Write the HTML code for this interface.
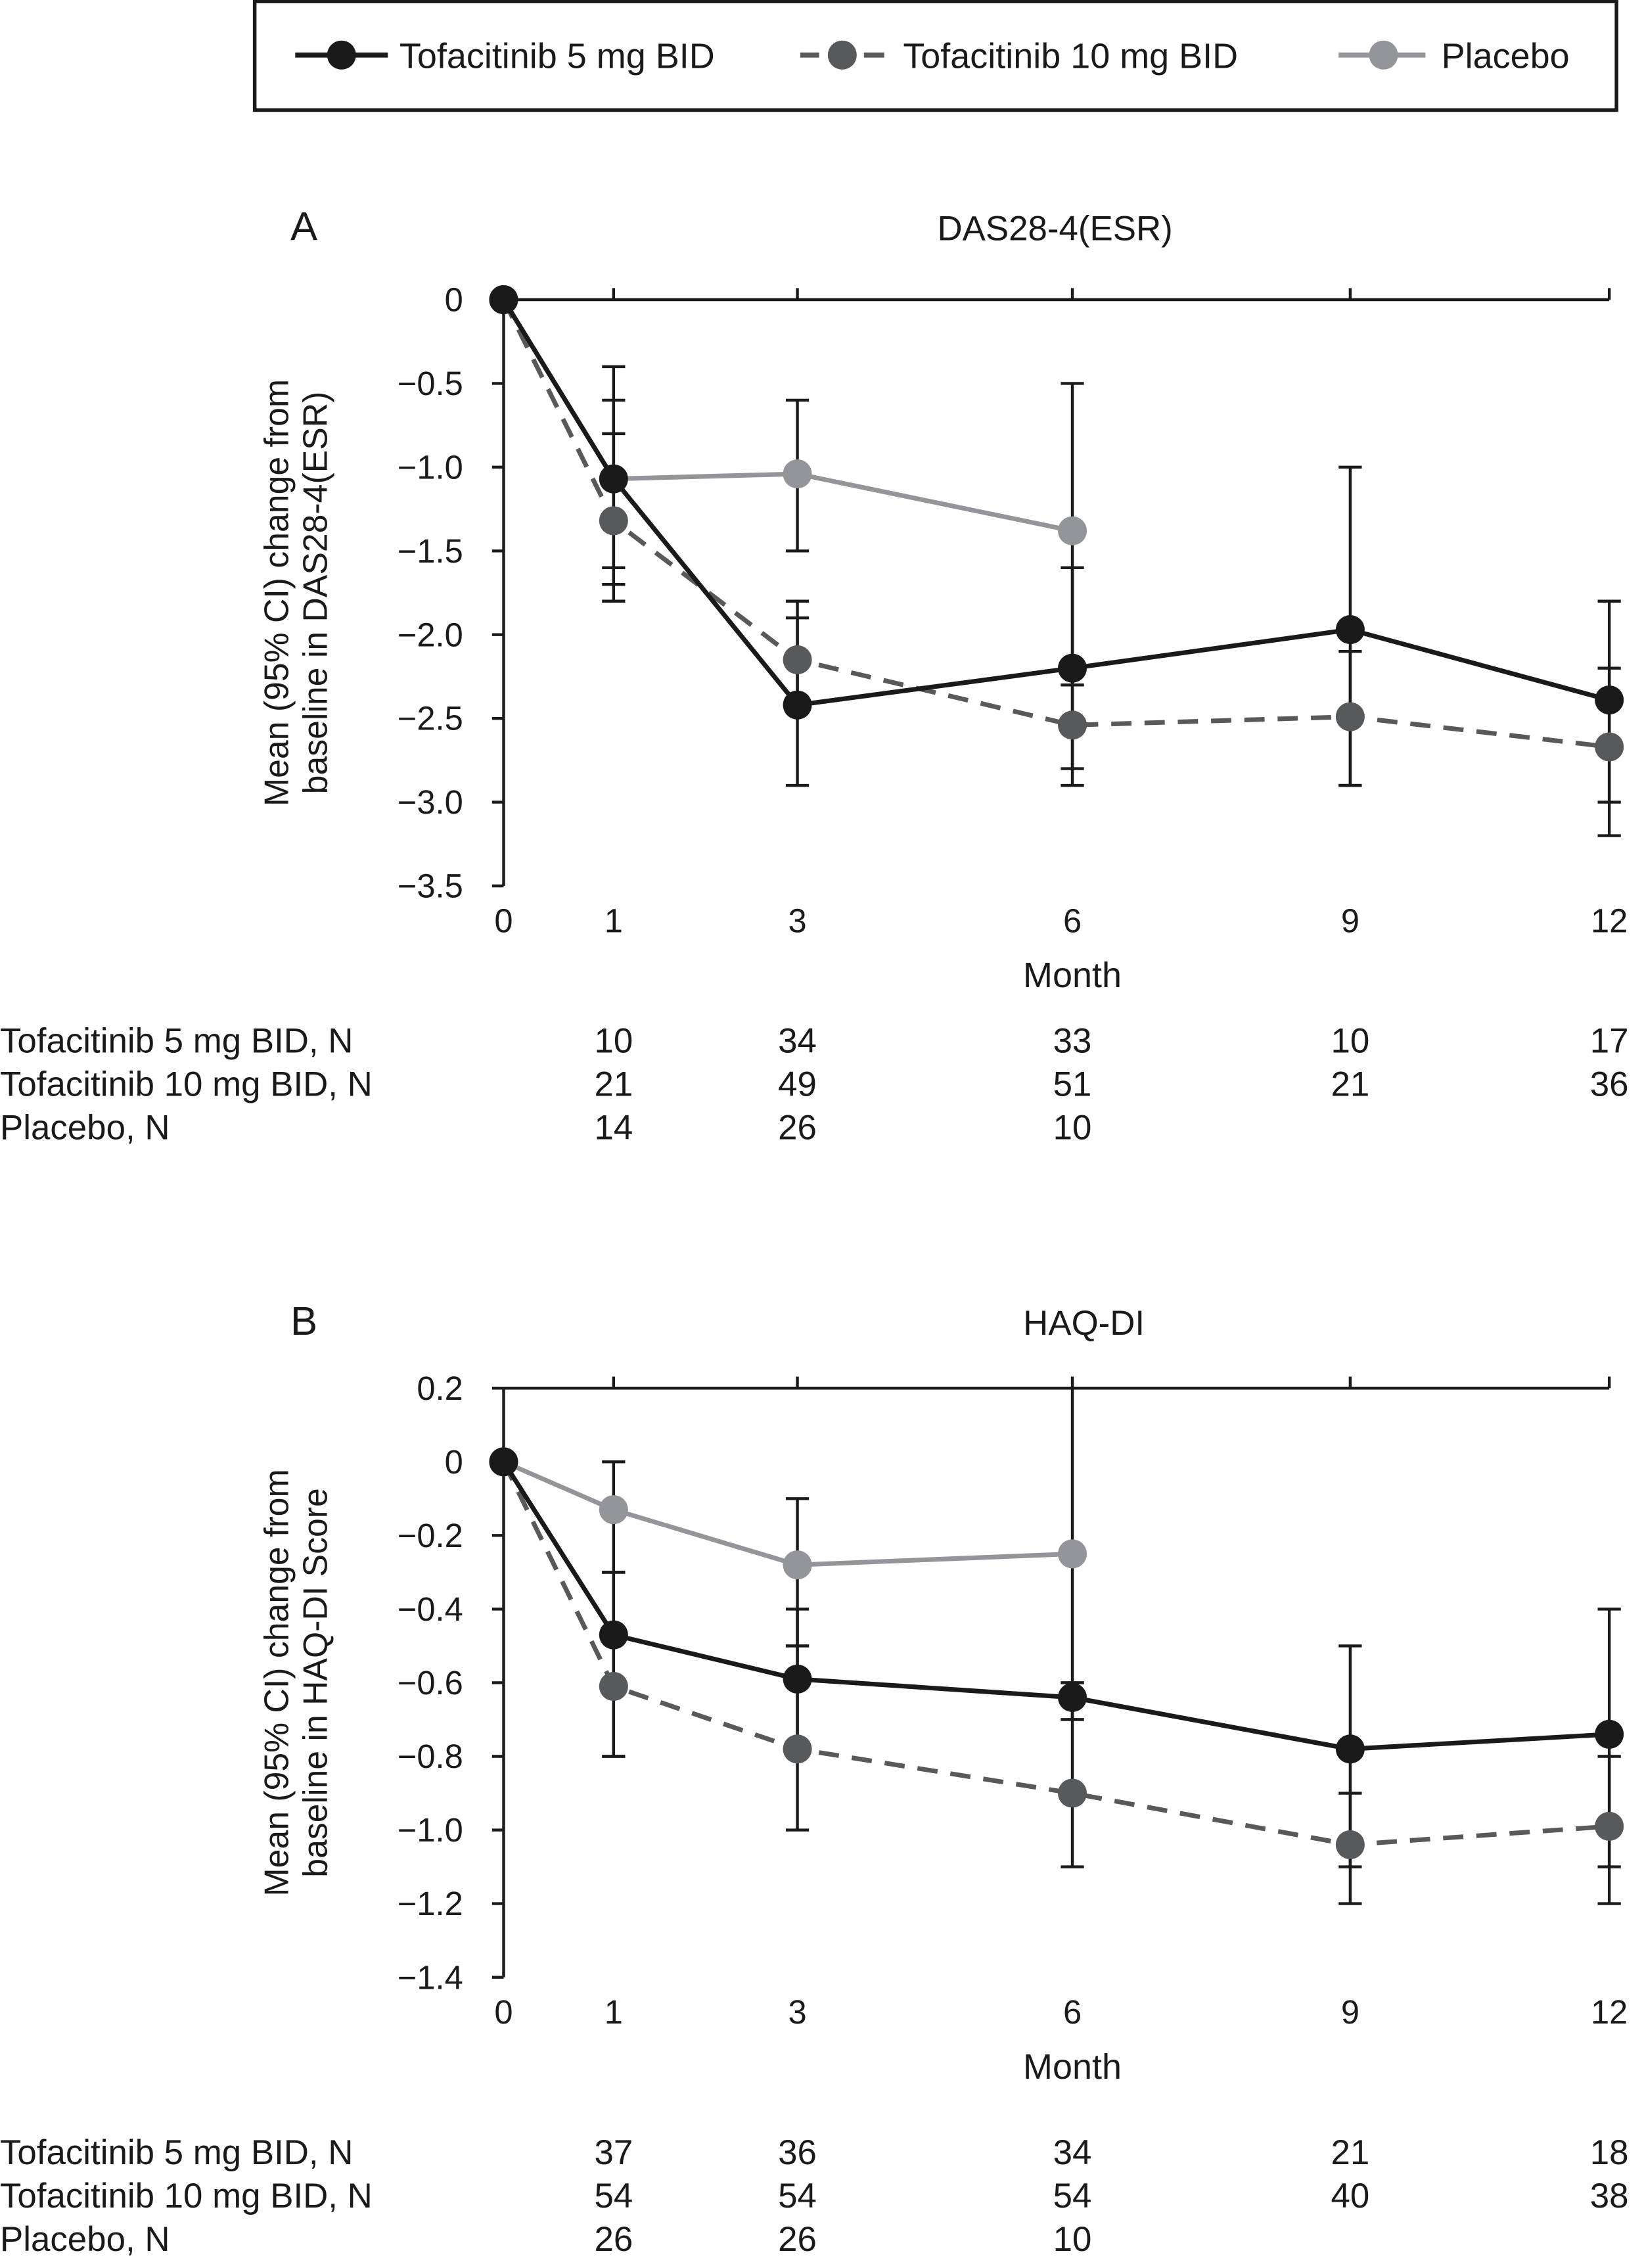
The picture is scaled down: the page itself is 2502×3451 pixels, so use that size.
<!DOCTYPE html>
<html><head><meta charset="utf-8"><style>
html,body{margin:0;padding:0;background:#fff}
svg{display:block}
text{font-family:"Liberation Sans",Arial,sans-serif;fill:#1a1a1a}
</style></head><body>
<svg id="fig" xmlns="http://www.w3.org/2000/svg" width="2502" height="3451" viewBox="0 0 1136 1566.8">
<g>
<rect x="176" y="1" width="941" height="75" fill="#fff" stroke="#1a1a1a" stroke-width="2.5"/>
<g>
<line x1="204" y1="38" x2="268" y2="38" stroke="#1a1a1a" stroke-width="3.5"/><circle cx="236" cy="38" r="10" fill="#1a1a1a"/>
<text x="276" y="47" font-size="24.5">Tofacitinib 5 mg BID</text></g>
<g>
<line x1="553" y1="38" x2="566" y2="38" stroke="#58595b" stroke-width="3.5"/><line x1="597" y1="38" x2="611" y2="38" stroke="#58595b" stroke-width="3.5"/><circle cx="582" cy="38" r="10" fill="#58595b"/>
<text x="624" y="47" font-size="24.5">Tofacitinib 10 mg BID</text></g>
<g>
<line x1="925" y1="38" x2="985" y2="38" stroke="#939598" stroke-width="3.5"/><circle cx="956" cy="38" r="10" fill="#939598"/>
<text x="996" y="47" font-size="24.5">Placebo</text></g>
</g>
<g id="panelA"></g>
<g id="panelB"></g>
</svg>
<script>
const months = [0,1,3,6,9,12];
// Panel A: DAS28-4(ESR)
const aMean5 = [0,-1.07,-2.42,-2.2,-1.97,-2.39];
const aLo5 = [null,-1.8,-2.9,-2.9,-2.9,-3.0];
const aHi5 = [null,-0.4,-1.9,-1.6,-1.0,-1.8];
const aMean10 = [0,-1.32,-2.15,-2.54,-2.49,-2.67];
const aLo10 = [null,-1.6,-2.45,-2.8,-2.9,-3.2];
const aHi10 = [null,-0.8,-1.8,-2.3,-2.1,-2.2];
const aMeanP = [0,-1.07,-1.04,-1.38];
const aLoP = [null,-1.7,-1.5,-2.3];
const aHiP = [null,-0.6,-0.6,-0.5];
const aTicks = [0,-0.5,-1.0,-1.5,-2.0,-2.5,-3.0,-3.5];
const aTickLabels = ["0","\u22120.5","\u22121.0","\u22121.5","\u22122.0","\u22122.5","\u22123.0","\u22123.5"];
const aN5 = ["10","34","33","10","17"];
const aN10 = ["21","49","51","21","36"];
const aNP = ["14","26","10"];
// Panel B: HAQ-DI
const bMean5 = [0,-0.47,-0.59,-0.64,-0.78,-0.74];
const bLo5 = [null,-0.8,-0.8,-0.7,-1.1,-1.1];
const bHi5 = [null,-0.3,-0.4,-0.6,-0.5,-0.4];
const bMean10 = [0,-0.61,-0.78,-0.9,-1.04,-0.99];
const bLo10 = [null,-0.8,-1.0,-1.1,-1.2,-1.2];
const bHi10 = [null,-0.3,-0.5,-0.6,-0.9,-0.8];
const bMeanP = [0,-0.13,-0.28,-0.25];
const bLoP = [null,-0.3,-0.5,-0.7];
const bHiP = [null,0.0,-0.1,0.2];
const bTicks = [0.2,0,-0.2,-0.4,-0.6,-0.8,-1.0,-1.2,-1.4];
const bTickLabels = ["0.2","0","\u22120.2","\u22120.4","\u22120.6","\u22120.8","\u22121.0","\u22121.2","\u22121.4"];
const bN5 = ["37","36","34","21","18"];
const bN10 = ["54","54","54","40","38"];
const bNP = ["26","26","10"];
const xLabels = ["0","1","3","6","9","12"];

const NS="http://www.w3.org/2000/svg";
function mk(parent,tag,attrs,txt){const e=document.createElementNS(NS,tag);for(const k in attrs)e.setAttribute(k,attrs[k]);if(txt!==undefined)e.textContent=txt;parent.appendChild(e);return e;}
// categorical-like month axis (original plot spaces months unevenly)
const axisMonths=[0,1,3,6,9,12], axisPx=[348,424,551,741,933,1112];
function xS(m){
  for(let i=0;i<axisMonths.length-1;i++){
    if(m<=axisMonths[i+1]){const t=(m-axisMonths[i])/(axisMonths[i+1]-axisMonths[i]);return axisPx[i]+t*(axisPx[i+1]-axisPx[i]);}
  }
  return axisPx[axisPx.length-1];
}

function panel(g,cfg){
  const yS = v => cfg.y0 + (cfg.vmax - v)*(cfg.y1-cfg.y0)/(cfg.vmax-cfg.vmin);
  const top=yS(cfg.vmax), bot=yS(cfg.vmin);
  let t=mk(g,'text',{x:210,y:cfg.titleY,'font-size':28,'text-anchor':'middle'},cfg.letter);
  
  
  t=mk(g,'text',{x:cfg.titleX,y:cfg.titleY,'font-size':24,'text-anchor':'middle'},cfg.title);
  
  
  const ax=mk(g,'g',{stroke:'#1a1a1a','stroke-width':2,fill:'none'});
  
  
  mk(ax,'line',{x1:348,y1:top,x2:348,y2:bot});
  mk(ax,'line',{x1:348,y1:yS(cfg.xAxisAt),x2:1112,y2:yS(cfg.xAxisAt)});
  months.forEach(m=>{ if(m>0) mk(ax,'line',{x1:xS(m),y1:yS(cfg.xAxisAt),x2:xS(m),y2:yS(cfg.xAxisAt)-8}); });
  cfg.ticks.forEach((v,i)=>{
    mk(ax,'line',{x1:340,y1:yS(v),x2:348,y2:yS(v)});
    const l=mk(g,'text',{x:320,y:yS(v)+8,'font-size':23,'text-anchor':'end'},cfg.tickLabels[i]);
    
    
  });
  months.forEach((m,i)=>{
    const l=mk(g,'text',{x:xS(m),y:bot+32,'font-size':23,'text-anchor':'middle'},xLabels[i]);
    
    
  });
  let l=mk(g,'text',{x:741,y:bot+70,'font-size':24.5,'text-anchor':'middle'},'Month');
  
  
  const yt=mk(g,'text',{'font-size':23.5,'text-anchor':'middle',transform:`translate(199,${(top+bot)/2}) rotate(-90)`});
  
  
  mk(yt,'tspan',{x:0,y:0},cfg.ylab1);
  mk(yt,'tspan',{x:0,y:27},cfg.ylab2);
  const eb=mk(g,'g',{stroke:'#1a1a1a','stroke-width':2});
  
  
  cfg.series.forEach(s=>{
    s.lo.forEach((lo,i)=>{ if(lo===null) return;
      const x=xS(months[i]);
      mk(eb,'line',{x1:x,y1:yS(lo),x2:x,y2:yS(s.hi[i])});
      mk(eb,'line',{x1:x-8,y1:yS(lo),x2:x+8,y2:yS(lo)});
      mk(eb,'line',{x1:x-8,y1:yS(s.hi[i]),x2:x+8,y2:yS(s.hi[i])});
    });
  });
  cfg.series.forEach(s=>{
    const sg=mk(g,'g',{});
    
    
    const pts=s.mean.map((v,i)=>xS(months[i])+','+yS(v)).join(' ');
    const pl=mk(sg,'polyline',{points:pts,fill:'none',stroke:s.color,'stroke-width':3.2});
    if(s.dash) pl.setAttribute('stroke-dasharray','14,9');
    s.mean.forEach((v,i)=>{
      const c=mk(sg,'circle',{cx:xS(months[i]),cy:yS(v),r:10,fill:s.color});
      
      
    });
  });
  const rows=[['Tofacitinib 5 mg BID, N',cfg.n5],['Tofacitinib 10 mg BID, N',cfg.n10],['Placebo, N',cfg.nP]];
  rows.forEach((r,ri)=>{
    const y=cfg.tableY+ri*30;
    const lab=mk(g,'text',{x:0,y:y,'font-size':24}, r[0]);
    
    
    r[1].forEach((n,i)=>{
      const c=mk(g,'text',{x:xS(months[i+1]),y:y,'font-size':24,'text-anchor':'middle'},n);
      
      
    });
  });
}
const dark='#1a1a1a', mid='#58595b', light='#939598';
panel(document.getElementById('panelA'),{letter:'A',title:'DAS28-4(ESR)',titleX:729,titleY:166,
  vmax:0,vmin:-3.5,y0:207,y1:612,xAxisAt:0,ticks:aTicks,tickLabels:aTickLabels,
  ylab1:'Mean (95% CI) change from',ylab2:'baseline in DAS28-4(ESR)',
  series:[{name:'series-placebo',mean:aMeanP,lo:aLoP,hi:aHiP,color:light},
          {name:'series-10mg',mean:aMean10,lo:aLo10,hi:aHi10,color:mid,dash:true},
          {name:'series-5mg',mean:aMean5,lo:aLo5,hi:aHi5,color:dark}],
  n5:aN5,n10:aN10,nP:aNP,tableY:727});
panel(document.getElementById('panelB'),{letter:'B',title:'HAQ-DI',titleX:749,titleY:922,
  vmax:0.2,vmin:-1.4,y0:959,y1:1366,xAxisAt:0.2,ticks:bTicks,tickLabels:bTickLabels,
  ylab1:'Mean (95% CI) change from',ylab2:'baseline in HAQ-DI Score',
  series:[{name:'series-placebo',mean:bMeanP,lo:bLoP,hi:bHiP,color:light},
          {name:'series-10mg',mean:bMean10,lo:bLo10,hi:bHi10,color:mid,dash:true},
          {name:'series-5mg',mean:bMean5,lo:bLo5,hi:bHi5,color:dark}],
  n5:bN5,n10:bN10,nP:bNP,tableY:1495});
</script>
</body></html>
